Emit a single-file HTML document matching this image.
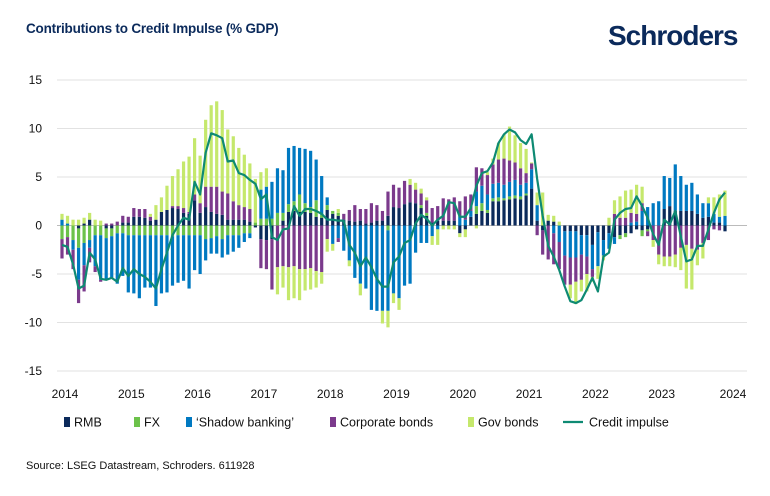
<!DOCTYPE html>
<html><head><meta charset="utf-8">
<style>
body{margin:0;background:#fff;font-family:"Liberation Sans",sans-serif;}
#wrap{position:relative;width:770px;height:496px;overflow:hidden;background:#fff;}
.title{position:absolute;left:26px;top:21px;font-size:13.5px;font-weight:bold;color:#0b2a5b;letter-spacing:-0.2px;}
.logo{position:absolute;left:608px;top:20px;font-size:28px;font-weight:bold;color:#0b2a5b;letter-spacing:-1px;}
.src{position:absolute;left:26px;top:460px;font-size:11px;color:#111;}
</style></head><body>
<div id="wrap">
<div class="title">Contributions to Credit Impulse (% GDP)</div>
<div class="logo">Schroders</div>
<svg id="chart" width="770" height="496" style="position:absolute;left:0;top:0"></svg>
<div class="src">Source: LSEG Datastream, Schroders. 611928</div>
</div>
<script>
const yearLabels=["2014","2015","2016","2017","2018","2019","2020","2021","2022","2023","2024"];
const yTicks=[15,10,5,0,-5,-10,-15];
const rmb=[0,0,0,-0.3,0.2,0.6,0,0,-0.3,-0.3,0,0.3,0.3,0.9,0.9,0.8,0.5,0.6,1.4,1.6,1.8,1.7,1.3,1.2,2.6,1.3,1.9,1.4,1.2,1.1,0.6,0.6,0.6,0.6,0.4,-0.2,-1.4,-1.5,-1.4,0,0.5,1.4,1.5,1.4,1.4,1.3,0.9,0.8,1.6,1.2,1.0,0.6,0.5,0.4,0.5,0.2,0.3,0.5,0.5,1.0,1.9,1.8,2.2,2.4,2.3,1.8,1.0,0.3,0.5,0.5,0.5,0.5,-0.8,-0.4,0.9,1.2,1.5,1.3,2.5,2.5,2.6,2.7,2.8,2.7,3.1,3.8,0.5,-0.5,0.5,0.4,0,-0.6,-0.6,-0.6,-1.0,-1.0,-2.0,-0.7,-1.5,-0.8,-1.2,-1.0,-0.8,-0.8,-0.4,-0.5,-0.4,0,0,1.7,2.0,1.5,1.5,1.5,1.5,1.2,0.8,0.9,0.3,0.3,-0.6];
const fx=[-1.4,-1.2,-1.5,-2,-1.8,-1.5,-1,-1,-1,-0.8,-0.8,-0.8,-1,-1,-1,-1,-1,-1,-1,-1,-1.1,-1,-1,-1,-1,-1,-1.4,-1.3,-1.1,-1.4,-1,-1,-1,-0.8,-0.8,0.3,0.7,0.7,0.7,1.3,0.8,0.8,1.0,1.8,0.9,0.6,1.7,0.3,0.5,0.3,0.3,0,0,0,0,0,0,0,0,-0.5,0,0,0,0,0,0.3,0.3,0,0,0,0,0,0,0,0,0.8,0.8,0.3,0.3,0.4,0.2,0.3,0.3,0.3,0.2,0,0,0,0,0,0,0,0,0,0,0,0,0,0,0,0,-0.4,-0.4,0,0,-0.6,-0.2,0,0,0,0,0,0,0,0,0,0,0,0,0,0];
const shadow=[0.6,0.2,-1,-3.3,-2.3,-0.8,-3.2,-4.6,-4.3,-4.3,-5.2,-4.4,-5.9,-6,-6.5,-5.4,-5.4,-7.3,-6,-5.9,-5.1,-4.9,-4.7,-5.5,-3.6,-4,-2.2,-1.6,-1.8,-1.9,-2,-1.7,-1.3,-0.9,-0.5,0,3.0,3.3,3.8,4.6,4.4,5.8,5.7,4.8,5.6,5.8,4.2,4.0,0.8,-1.9,-1.3,-2.6,-3.6,-5.4,-6,-6.5,-8.7,-8.8,-8.8,-8.3,-7.0,-7.5,-6.2,-6.0,-2.8,-1.8,-1.8,-1.1,-0.4,0,0,0,1.0,0.6,0.6,1.5,1.8,1.6,1.5,1.5,1.4,1.5,1.6,1.2,1.1,2.0,1.6,0,0,-0.8,-1.7,-2.5,-2.7,-2.7,-2.0,-2.2,-2.5,-3.5,-1.6,-1.6,-0.7,0,0,0.3,0.4,1.5,1.9,2.3,2.5,3.4,2.9,4.8,3.6,2.7,2.9,2.0,1.5,1.4,0.9,0.6,1.0];
const corp=[-2,-1.8,-2,-2.4,-2.7,-1.5,-0.6,-0.2,0.2,0.2,0.4,0.7,0.6,0.9,0.8,0.9,0.4,0,0,0,0.2,0.3,0.5,0.2,0.6,1.0,2.1,2.6,2.8,2.4,2.7,1.9,1.5,1.3,1.3,0,-3,-3,-5.2,-4.3,-4.2,-4.3,-4.2,-4.5,-4.5,-4.4,-4.7,-4.8,-1.4,0,-0.4,0.6,1.1,1.7,1.2,1.5,2.0,1.6,1.0,2.5,2.3,2.1,2.4,1.8,1.4,1.2,1.3,1.5,1.5,2.3,2.2,2.4,1.5,2.4,1.7,2.5,1.8,2.0,2.0,2.4,2.7,2.2,1.8,1.7,1.0,0.6,-1.0,-2.5,-3.5,-3.2,-2.8,-3.0,-2.8,-2.5,-2.6,-1.8,-0.8,0,0,0,1.2,0.8,0.8,1.0,0.8,0.8,-0.5,-1.5,-3.0,-3.2,-3.2,-3.0,-2.3,-2.0,-2.4,-2.5,-1.8,-1.5,-0.4,-0.5,0];
const gov=[0.6,0.8,0.6,0.6,0.6,0.7,0.6,0.5,0,0,0,0,0,0,0,0,0.3,1.5,1.5,2.5,3.1,3.8,4.8,5.7,5.8,4.9,6.9,8.4,8.8,8.4,6.6,6.7,5.9,5.4,4.7,4.5,1.8,1.9,0,-2.8,-2.2,-3.4,-3.3,-3.2,-2.2,-2.2,-1.7,-1.2,-1.3,-0.7,0.4,0,-0.6,0,-1.2,0,0,0,-1.3,-1.7,-1.0,-1.2,0,0.6,0.7,0.5,0.3,-0.9,-1.6,-0.4,-0.4,-0.4,-0.4,-0.8,0,-0.3,0,0.3,0.6,1.7,2.5,3.5,2.8,2.6,2.5,0.1,1.3,3.4,0.6,0.6,0.4,0,-1.4,-2.3,-1.2,-1.8,-0.5,-1.3,-0.5,0.8,1.4,2.2,2.8,2.4,3.0,1.7,0,-0.7,-1.0,-1.0,-1.0,-1.3,-2.3,-4.5,-4.2,-1.6,-1.6,0.6,1.7,2.3,2.6];
const impulse=[-2,-2.2,-4,-6.5,-6.2,-2.8,-3.5,-5.5,-5.6,-5.4,-5.8,-4.4,-5.2,-4.5,-5,-5.3,-5.8,-6.5,-4.5,-2.8,-1,0,0.8,0.6,4.5,3.2,7.5,9.5,9.3,9,6.6,6.7,5.4,5.2,4.7,4.3,2.7,3.2,-1.2,-1.5,-0.4,-0.3,2.0,1.0,1.7,1.7,1.5,1.2,0.6,0.6,0.5,0.5,-2,-2.8,-4.2,-3.3,-4.3,-5.5,-6.3,-6.3,-3.8,-3.2,-1.8,-1.5,0.2,1.1,0.7,0,0.6,1.0,2.4,2.3,0.9,0.9,1.8,4.1,5.4,5.6,6.5,8.5,9.4,9.9,9.6,8.8,8.4,9.4,4.8,1.0,-2.1,-3.2,-4.6,-6.3,-7.8,-8.0,-7.7,-6.6,-5.4,-6.8,-3.2,-2.8,0.6,1.3,1.7,1.8,3.0,2.0,0.8,-0.9,-2.0,0.6,0.1,1.5,-1.1,-3.7,-3.5,-2.1,-2.1,-0.4,1.3,2.7,3.4];
const series=[rmb,fx,shadow,corp,gov];
const colors=["#0b2a5b","#6cc24a","#0079c1","#7b3a8c","#c5e86c"];
const names=["RMB","FX","\u2018Shadow banking\u2019","Corporate bonds","Gov bonds"];
const NS="http://www.w3.org/2000/svg";
const svg=document.getElementById('chart');
const X0=62,X1=725,Y0=225.5,PU=9.7;
const n=impulse.length;
function xs(i){return X0+(X1-X0)*i/(n-1);}
function ys(v){return Y0-v*PU;}
function mk(t,a){const e=document.createElementNS(NS,t);for(const k in a)e.setAttribute(k,a[k]);svg.appendChild(e);return e;}
yTicks.forEach(v=>{
 const g=mk('line',{x1:57,x2:747,y1:ys(v),y2:ys(v),stroke:v===0?'#bbb':'#e2e2e2','stroke-width':1});
 
 
 const t=mk('text',{x:42,y:ys(v)+4,'text-anchor':'end','font-size':12,fill:'#111','font-family':'Liberation Sans, sans-serif'});
 t.textContent=v;
 
 
});
yearLabels.forEach((l,k)=>{
 const t=mk('text',{x:xs(k*12)+3+(k===10?5:0),y:398,'text-anchor':'middle','font-size':12,fill:'#111','font-family':'Liberation Sans, sans-serif'});
 t.textContent=l;
 
 
});
for(let i=0;i<n;i++){
 let pos=0,neg=0;
 series.forEach((s,j)=>{
  const v=s[i]; if(!v) return;
  let a,b;
  if(v>0){a=pos;b=pos+v;pos=b;}else{a=neg;b=neg+v;neg=b;}
  const r=mk('rect',{x:xs(i)-1.6,width:3.2,y:Math.min(ys(a),ys(b)),height:Math.abs(ys(a)-ys(b)),fill:colors[j]});
  
  
 });
}
const p=mk('polyline',{points:impulse.map((v,i)=>xs(i)+','+ys(v)).join(' '),fill:'none',stroke:'#0e8a73','stroke-width':2.2,'stroke-linejoin':'round'});


// legend
const lx=[64,134,186,330,468,563];
names.concat(['Credit impulse']).forEach((nm,j)=>{
 if(j<5){const r=mk('rect',{x:lx[j],y:417,width:6,height:10,fill:colors[j]});
  
  }
 else{const l=mk('line',{x1:lx[j],x2:lx[j]+20,y1:422,y2:422,stroke:'#0e8a73','stroke-width':2.2});
  
  }
 const t=mk('text',{x:lx[j]+(j<5?10:26),y:426.5,'font-size':12.5,fill:'#111','font-family':'Liberation Sans, sans-serif'});
 t.textContent=nm;
 
 
});
</script>
</body></html>
